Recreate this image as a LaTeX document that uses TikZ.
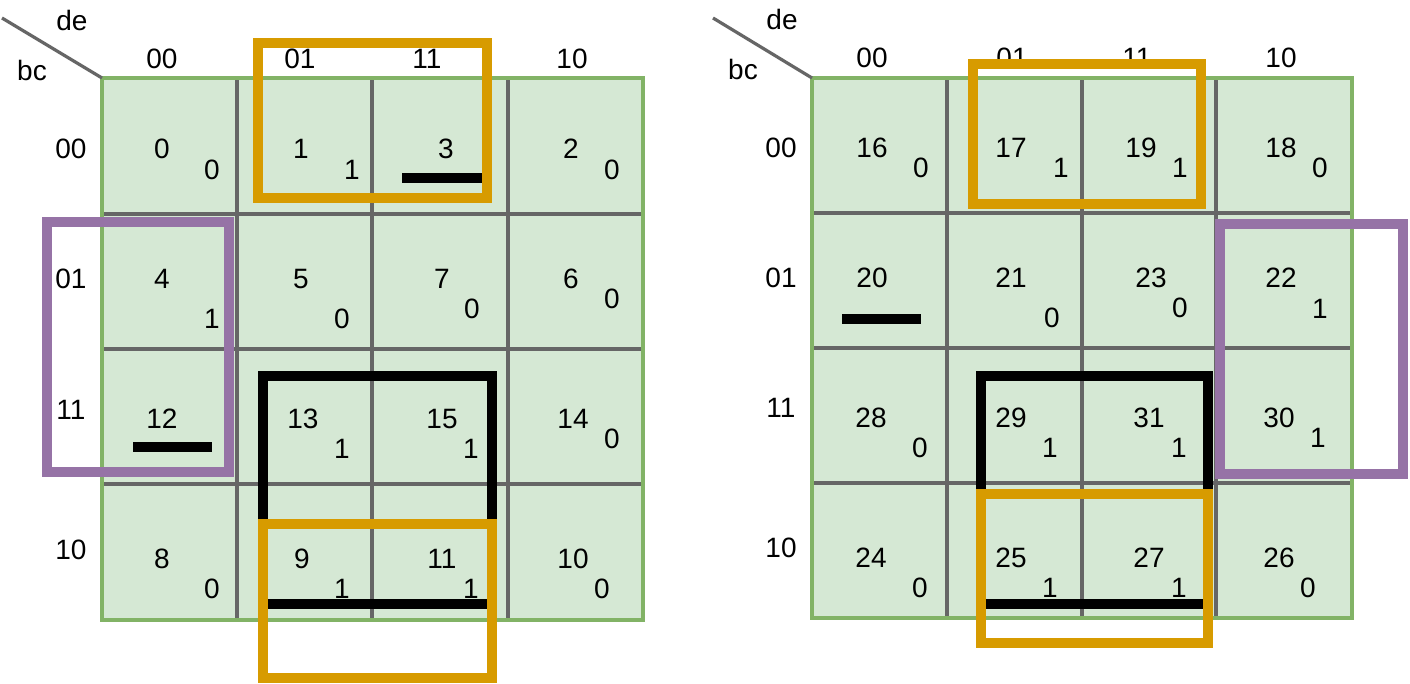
\documentclass[tikz,border=0pt]{standalone}
\usepackage{fontspec}
\setmainfont{Liberation Sans}
\definecolor{cellgreen}{HTML}{D5E8D4}
\definecolor{bordergreen}{HTML}{82B366}
\definecolor{gridgray}{HTML}{666666}
\definecolor{grporange}{HTML}{D79B00}
\definecolor{grppurple}{HTML}{9673A6}
\begin{document}
\begin{tikzpicture}[x=0.75pt,y=-0.75pt,
  lbl/.style={font=\fontsize{21}{25}\selectfont, inner sep=0pt, anchor=center},
  gridline/.style={draw=gridgray, line width=2.4pt},
  mapborder/.style={draw=bordergreen, line width=2.4pt},
  bar/.style={fill=black},
  grp/.style={line width=7.5pt}]
\useasboundingbox (0,0) rectangle (1410,684);
\fill[white] (0,0) rectangle (1410,684);

% ---------- left map ----------
\fill[cellgreen] (102,78) rectangle (643,620);
\foreach \x in {237,372,508} \draw[gridline] (\x,80) -- (\x,618);
\foreach \y in {214,349,484} \draw[gridline] (103,\y) -- (642,\y);
\draw[mapborder] (102,78) rectangle (643,620);
\coordinate (ldA) at (2,18);
\coordinate (ldB) at (102,78);
\draw[gridgray, line width=2.4pt] (ldA) -- (ldB);
\node[lbl] (lde) at (72,20) {de};
\node[lbl] (lbc) at (32,70) {bc};
\node[lbl] (lh1) at (162,59) {00};
\node[lbl] (lh2) at (300,59) {01};
\node[lbl] (lh3) at (427,59) {11};
\node[lbl] (lh4) at (572,59) {10};
\node[lbl] (lr1) at (71,149) {00};
\node[lbl] (lr2) at (71,279) {01};
\node[lbl] (lr3) at (71,410) {11};
\node[lbl] (lr4) at (71,550) {10};
% cells
\node[lbl] (c0) at (162,149) {0};   \node[lbl] (v0) at (212,170) {0};
\node[lbl] (c1) at (301,149) {1};   \node[lbl] (v1) at (352,170) {1};
\node[lbl] (c3) at (446,149) {3};
\node[lbl] (c2) at (571,149) {2};   \node[lbl] (v2) at (612,170) {0};
\node[lbl] (c4) at (162,279) {4};   \node[lbl] (v4) at (212,319) {1};
\node[lbl] (c5) at (301,279) {5};   \node[lbl] (v5) at (342,319) {0};
\node[lbl] (c7) at (442,279) {7};   \node[lbl] (v7) at (472,309) {0};
\node[lbl] (c6) at (571,279) {6};   \node[lbl] (v6) at (612,299) {0};
\node[lbl] (c12) at (162,419) {12};
\node[lbl] (c13) at (303,419) {13}; \node[lbl] (v13) at (342,449) {1};
\node[lbl] (c15) at (442,419) {15}; \node[lbl] (v15) at (471,449) {1};
\node[lbl] (c14) at (573,419) {14}; \node[lbl] (v14) at (612,439) {0};
\node[lbl] (c8) at (162,559) {8};   \node[lbl] (v8) at (212,589) {0};
\node[lbl] (c9) at (302,559) {9};   \node[lbl] (v9) at (342,589) {1};
\node[lbl] (c11) at (442,559) {11}; \node[lbl] (v11) at (471,589) {1};
\node[lbl] (c10) at (573,559) {10}; \node[lbl] (v10) at (602,589) {0};
% bars
\fill[bar] (402,173) rectangle (482,183);
\fill[bar] (133,442) rectangle (212,452);
% groups
\draw[grp, grppurple] (47,222) rectangle (229,472);
\draw[grp, black] (263,376) rectangle (492,604);
\draw[grp, grporange] (258,43) rectangle (487,198);
\draw[grp, grporange] (263,524) rectangle (492,678);

% ---------- right map ----------
\fill[cellgreen] (812,78) rectangle (1352,618);
\foreach \x in {947,1082,1216} \draw[gridline] (\x,80) -- (\x,616);
\foreach \y in {213,348,483} \draw[gridline] (813,\y) -- (1351,\y);
\draw[mapborder] (812,78) rectangle (1352,618);
\coordinate (rdA) at (713,18);
\coordinate (rdB) at (812,78);
\draw[gridgray, line width=2.4pt] (rdA) -- (rdB);
\node[lbl] (rde) at (782,19) {de};
\node[lbl] (rbc) at (743,69) {bc};
\node[lbl] (rh1) at (872,58) {00};
\node[lbl] (rh2) at (1012,58) {01};
\node[lbl] (rh3) at (1137,58) {11};
\node[lbl] (rh4) at (1281,58) {10};
\node[lbl] (rr1) at (781,148) {00};
\node[lbl] (rr2) at (781,278) {01};
\node[lbl] (rr3) at (781,408) {11};
\node[lbl] (rr4) at (781,548) {10};
\node[lbl] (c16) at (872,148) {16};  \node[lbl] (v16) at (921,168) {0};
\node[lbl] (c17) at (1011,148) {17}; \node[lbl] (v17) at (1061,168) {1};
\node[lbl] (c19) at (1141,148) {19}; \node[lbl] (v19) at (1180,168) {1};
\node[lbl] (c18) at (1281,148) {18}; \node[lbl] (v18) at (1320,168) {0};
\node[lbl] (c20) at (872,278) {20};
\node[lbl] (c21) at (1011,278) {21}; \node[lbl] (v21) at (1052,318) {0};
\node[lbl] (c23) at (1151,278) {23}; \node[lbl] (v23) at (1180,308) {0};
\node[lbl] (c22) at (1281,278) {22}; \node[lbl] (v22) at (1320,309) {1};
\node[lbl] (c28) at (871,418) {28};  \node[lbl] (v28) at (920,448) {0};
\node[lbl] (c29) at (1011,418) {29}; \node[lbl] (v29) at (1050,448) {1};
\node[lbl] (c31) at (1149,418) {31}; \node[lbl] (v31) at (1179,448) {1};
\node[lbl] (c30) at (1279,418) {30}; \node[lbl] (v30) at (1318,438) {1};
\node[lbl] (c24) at (871,558) {24};  \node[lbl] (v24) at (920,588) {0};
\node[lbl] (c25) at (1011,558) {25}; \node[lbl] (v25) at (1050,588) {1};
\node[lbl] (c27) at (1149,558) {27}; \node[lbl] (v27) at (1179,588) {1};
\node[lbl] (c26) at (1279,558) {26}; \node[lbl] (v26) at (1308,588) {0};
% bars
\fill[bar] (842,314) rectangle (921,324);
% groups
\draw[grp, grppurple] (1220,224) rectangle (1403,474);
\draw[grp, black] (981,376) rectangle (1208,604);
\draw[grp, grporange] (973,64) rectangle (1201,204);
\draw[grp, grporange] (981,494) rectangle (1208,643);
\end{tikzpicture}
\end{document}
